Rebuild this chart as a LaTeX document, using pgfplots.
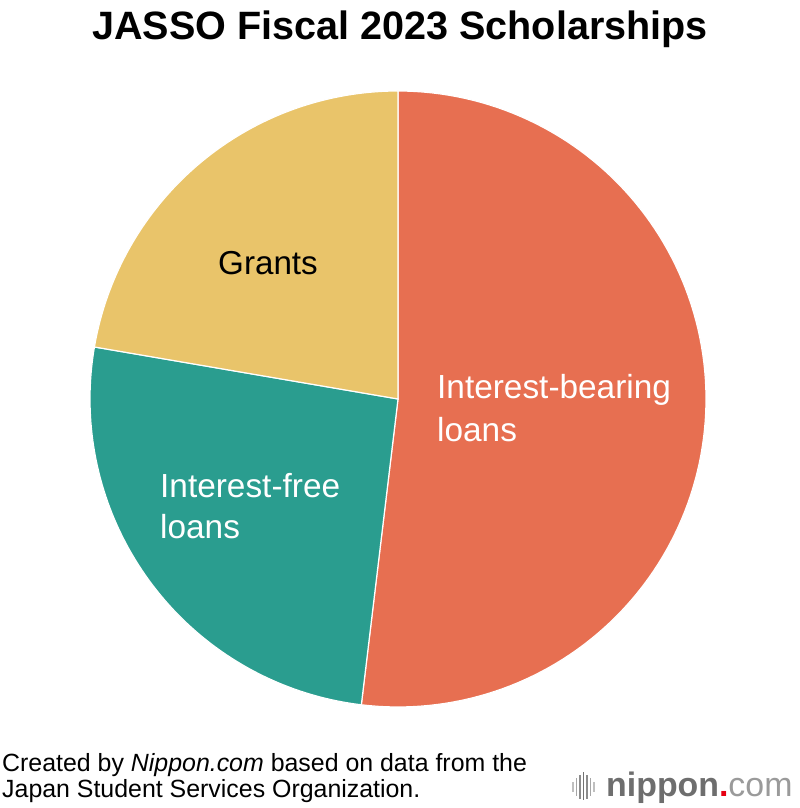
\documentclass[border=0pt]{standalone}
\usepackage{pgfplots}
\pgfplotsset{compat=1.18}
\usepackage{fontspec}
\setmainfont{Liberation Sans}
\definecolor{ib}{HTML}{E76F51}
\definecolor{iff}{HTML}{2A9D8F}
\definecolor{gr}{HTML}{E9C46A}
\definecolor{logogray}{HTML}{6E6E6E}
\definecolor{logolight}{HTML}{9A9A9A}
\definecolor{logored}{HTML}{E60012}
\begin{document}
\begin{tikzpicture}[x=1bp,y=1bp]
\path (0,0) rectangle (800,808);
% shares in percent
\def\vIB{51.9}
\def\vIF{25.8}
\def\vGR{22.3}
\pgfmathsetmacro{\aA}{90}
\pgfmathsetmacro{\aB}{90-3.6*\vIB}
\pgfmathsetmacro{\aC}{\aB-3.6*\vIF}
\pgfmathsetmacro{\aD}{\aC-3.6*\vGR}
\begin{axis}[at={(90bp,101bp)}, anchor=south west, scale only axis,
  width=616bp, height=616bp, xmin=-1, xmax=1, ymin=-1, ymax=1,
  hide axis, clip=false]
\addplot[fill=ib, draw=white, line width=1.2pt, domain=\aB:\aA, samples=120] ({cos(x)},{sin(x)}) -- (axis cs:0,0) -- cycle;
\addplot[fill=iff, draw=white, line width=1.2pt, domain=\aC:\aB, samples=80] ({cos(x)},{sin(x)}) -- (axis cs:0,0) -- cycle;
\addplot[fill=gr, draw=white, line width=1.2pt, domain=\aD:\aC, samples=80] ({cos(x)},{sin(x)}) -- (axis cs:0,0) -- cycle;
\end{axis}
\node[anchor=base, inner sep=0, font=\fontsize{39.7}{46}\selectfont\bfseries] at (400,768) {JASSO Fiscal 2023 Scholarships};
\node[anchor=base, inner sep=0, font=\fontsize{33.3}{38}\selectfont] at (268,533) {Grants};
\node[anchor=base west, inner sep=0, text=white, font=\fontsize{33.5}{38}\selectfont] at (437,409) {Interest-bearing};
\node[anchor=base west, inner sep=0, text=white, font=\fontsize{33.5}{38}\selectfont] at (437,366) {loans};
\node[anchor=base west, inner sep=0, text=white, font=\fontsize{33.5}{38}\selectfont] at (160,310) {Interest-free};
\node[anchor=base west, inner sep=0, text=white, font=\fontsize{33.5}{38}\selectfont] at (160,269) {loans};
\node[anchor=base west, inner sep=0, font=\fontsize{25}{27}\selectfont] at (2,36) {Created by \textit{Nippon.com} based on data from the};
\node[anchor=base west, inner sep=0, font=\fontsize{25}{27}\selectfont] at (2,10) {Japan Student Services Organization.};
% logo
\foreach \xx/\tp/\bt/\c in {573/26/16/25, 576.5/30/12/35, 580/33/9/45, 583.5/36/8/55, 587/33/9/45, 590.5/30/12/35, 594/26/16/25}{
  \draw[line width=1.6bp, black!\c] (\xx,\bt) -- (\xx,\tp);
}
\node[anchor=base west, inner sep=0, font=\fontsize{34}{40}\selectfont\bfseries, text=logogray] at (606,11) {nippon\textcolor{logored}{.}\textcolor{logolight}{\mdseries com}};
\end{tikzpicture}
\end{document}
